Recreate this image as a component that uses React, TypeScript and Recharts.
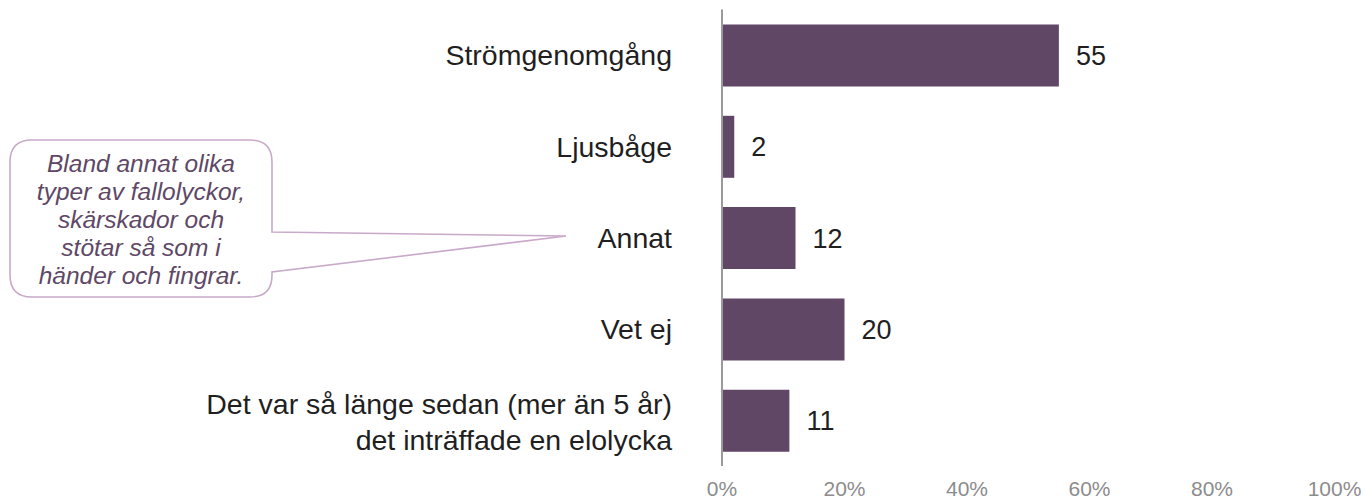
import React from 'react';
import { BarChart, Bar, XAxis, YAxis, LabelList } from 'recharts';

const categories = [
  'Strömgenomgång',
  'Ljusbåge',
  'Annat',
  'Vet ej',
  'Det var så länge sedan (mer än 5 år)\ndet inträffade en elolycka',
];
const values = [55, 2, 12, 20, 11];
const xTicks = [0, 20, 40, 60, 80, 100];
const calloutLines = [
  'Bland annat olika',
  'typer av fallolyckor,',
  'skärskador och',
  'stötar så som i',
  'händer och fingrar.',
];

const data = categories.map((name, i) => ({ name, value: values[i] }));

const FONT = '"Liberation Sans", Arial, Helvetica, sans-serif';

function CategoryTick(props: any) {
  const { x, y, payload } = props;
  const lines = String(payload.value).split('\n');
  const offsets = lines.length === 1 ? [0] : [-16, 20];
  return (
    <text x={x} y={y} textAnchor="end" fill="#1f1f1f" fontSize={28.5} fontFamily={FONT}>
      {lines.map((l, i) => (
        <tspan key={i} x={x} y={y + offsets[i]} dy="0.355em">
          {l}
        </tspan>
      ))}
    </text>
  );
}

export default function App() {
  return (
    <div style={{ position: 'absolute', left: 0, top: 0, width: 1365, height: 502, background: '#fff' }}>
      <BarChart
        width={1365}
        height={502}
        data={data}
        layout="vertical"
        margin={{ top: 9.5, right: 30.5, bottom: 0, left: 0 }}
      >
        <XAxis
          type="number"
          domain={[0, 100]}
          ticks={xTicks}
          tickFormatter={(v: number) => `${v}%`}
          axisLine={false}
          tickLine={false}
          tickSize={0}
          tickMargin={15}
          height={36}
          tick={{ fill: '#8c8c8c', fontSize: 21, fontFamily: FONT }}
          interval={0}
        />
        <YAxis
          type="category"
          dataKey="name"
          width={722}
          axisLine={{ stroke: '#9a9a9a', strokeWidth: 2 }}
          tickLine={false}
          tickSize={0}
          tickMargin={50}
          tick={<CategoryTick />}
          interval={0}
        />
        <Bar dataKey="value" fill="#614766" barSize={62} isAnimationActive={false}>
          <LabelList
            dataKey="value"
            position="right"
            offset={17}
            fill="#1f1f1f"
            fontSize={27}
            fontFamily={FONT}
          />
        </Bar>
      </BarChart>
      <svg
        width={1365}
        height={502}
        style={{ position: 'absolute', left: 0, top: 0, pointerEvents: 'none' }}
      >
        <path
          d="M 32 140 H 250 Q 272 140 272 162 V 232 L 566 236 L 272 272 V 275 Q 272 297 250 297 H 32 Q 10 297 10 275 V 162 Q 10 140 32 140 Z"
          fill="#ffffff"
          stroke="#c9a9c9"
          strokeWidth={1.6}
        />
        <text
          textAnchor="middle"
          fill="#5e4866"
          fontSize={24.5}
          fontStyle="italic"
          fontFamily={FONT}
        >
          {calloutLines.map((l, i) => (
            <tspan key={i} x={141} y={172 + i * 28}>
              {l}
            </tspan>
          ))}
        </text>
      </svg>
    </div>
  );
}
